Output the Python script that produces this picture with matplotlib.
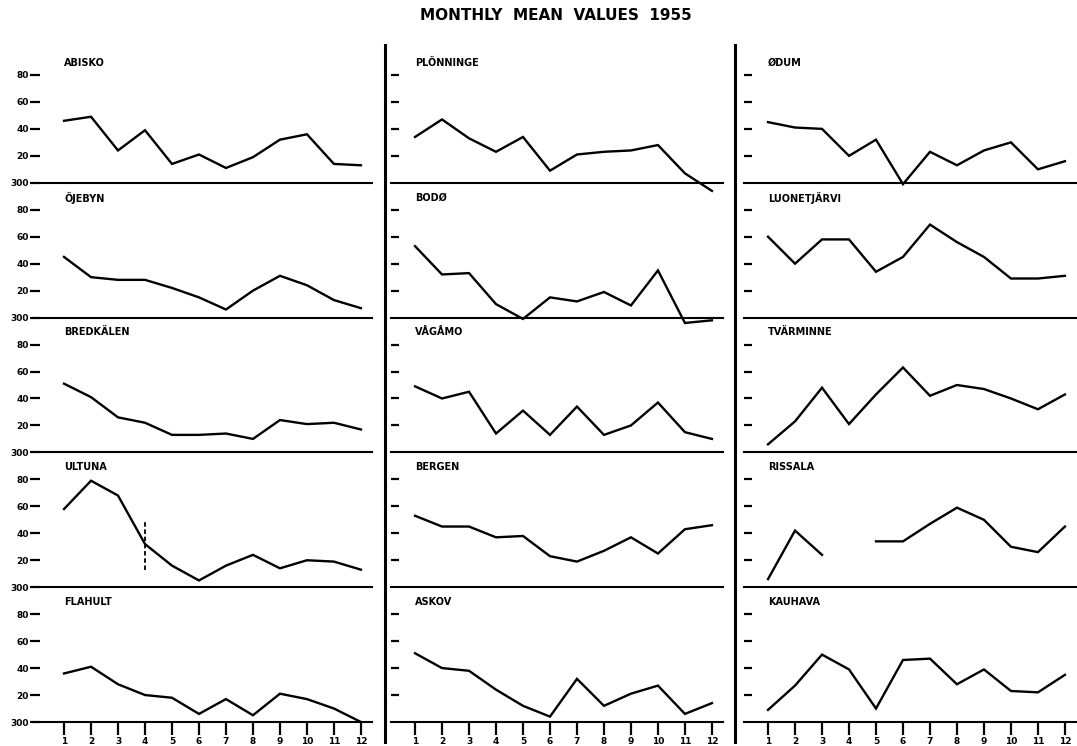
import numpy as np
import matplotlib
matplotlib.use("Agg")
import matplotlib.pyplot as plt
from matplotlib.lines import Line2D

# ---------------- data ----------------
months = list(range(1, 13))
month_labels = [str(m) for m in months]
ytick_values = [300, 320, 340, 360, 380]
ytick_labels = ["300", "20", "40", "60", "80"]

abisko = [346, 349, 324, 339, 314, 321, 311, 319, 332, 336, 314, 313]
ojebyn = [345, 330, 328, 328, 322, 315, 306, 320, 331, 324, 313, 307]
bredkalen = [351, 341, 326, 322, 313, 313, 314, 310, 324, 321, 322, 317]
ultuna = [358, 379, 368, 332, 316, 305, 316, 324, 314, 320, 319, 313]
flahult = [336, 341, 328, 320, 318, 306, 317, 305, 321, 317, 310, 300]

plonninge = [334, 347, 333, 323, 334, 309, 321, 323, 324, 328, 307, 294]
bodo = [353, 332, 333, 310, 299, 315, 312, 319, 309, 335, 296, 298]
vagamo = [349, 340, 345, 314, 331, 313, 334, 313, 320, 337, 315, 310]
bergen = [353, 345, 345, 337, 338, 323, 319, 327, 337, 325, 343, 346]
askov = [351, 340, 338, 324, 312, 304, 332, 312, 321, 327, 306, 314]

odum = [345, 341, 340, 320, 332, 299, 323, 313, 324, 330, 310, 316]
luonetjarvi = [360, 340, 358, 358, 334, 345, 369, 356, 345, 329, 329, 331]
tvarminne = [306, 323, 348, 321, 343, 363, 342, 350, 347, 340, 332, 343]
rissala = [306, 342, 324, np.nan, 334, 334, 347, 359, 350, 330, 326, 345]
kauhava = [309, 327, 350, 339, 310, 346, 347, 328, 339, 323, 322, 335]

ultuna_marker_month = 4
ultuna_marker_range = [313, 350]

stations = [
    [("ABISKO", abisko), ("PLÖNNINGE", plonninge), ("ØDUM", odum)],
    [("ÖJEBYN", ojebyn), ("BODØ", bodo), ("LUONETJÄRVI", luonetjarvi)],
    [("BREDKÄLEN", bredkalen), ("VÅGÅMO", vagamo), ("TVÄRMINNE", tvarminne)],
    [("ULTUNA", ultuna), ("BERGEN", bergen), ("RISSALA", rissala)],
    [("FLAHULT", flahult), ("ASKOV", askov), ("KAUHAVA", kauhava)],
]

title = "MONTHLY  MEAN  VALUES  1955"

# ---------------- figure ----------------
plt.rcParams["font.family"] = ["DejaVu Sans"]
plt.rcParams["font.weight"] = "bold"

W, H = 1077, 746
fig = plt.figure(figsize=(W / 100, H / 100), dpi=100)

col_left_px = [40, 391, 744]
width_px = 332
top_px = 48
row_h_px = 134.8

for r in range(5):
    for c in range(3):
        name, vals = stations[r][c]
        left = col_left_px[c] / W
        bottom = 1 - (top_px + (r + 1) * row_h_px) / H
        ax = fig.add_axes([left, bottom, width_px / W, row_h_px / H])
        ax.patch.set_visible(False)
        ax.set_xlim(0.11, 12.41)
        ax.set_ylim(300, 400)
        for s in ["top", "right", "left"]:
            ax.spines[s].set_visible(False)
        ax.spines["bottom"].set_linewidth(1.5)

        ax.plot(months, vals, color="black", lw=1.7, clip_on=False,
                solid_joinstyle="miter")

        if name == "ULTUNA":
            ax.plot([ultuna_marker_month] * 2, ultuna_marker_range,
                    color="black", lw=1.3, ls=(0, (2.5, 1.5)), clip_on=False)

        ax.text(1, 389, name, fontsize=7, fontweight="bold",
                ha="left", va="center")

        if c == 0:
            ax.set_yticks(ytick_values)
            ax.set_yticklabels(ytick_labels)
            ax.tick_params(axis="y", direction="out", length=7, width=1.6,
                           pad=1, labelsize=6.5)
        else:
            ax.set_yticks(ytick_values[1:])
            ax.set_yticklabels([])
            ax.tick_params(axis="y", direction="in", length=6, width=1.6)

        if r == 4:
            ax.set_xticks(months)
            ax.set_xticklabels(month_labels)
            ax.tick_params(axis="x", direction="out", length=9, width=1.6,
                           pad=2, labelsize=6.5)
        else:
            ax.set_xticks([])

# column separator lines
for xpx in [385, 735]:
    fig.add_artist(Line2D([xpx / W, xpx / W], [1 - 45 / H, 1 - 742 / H],
                          transform=fig.transFigure, color="black", lw=2.2))

fig.text(556 / W, 1 - 15 / H, title, ha="center", va="center",
         fontsize=11, fontweight="bold")

fig.savefig("out.png", dpi=100)
